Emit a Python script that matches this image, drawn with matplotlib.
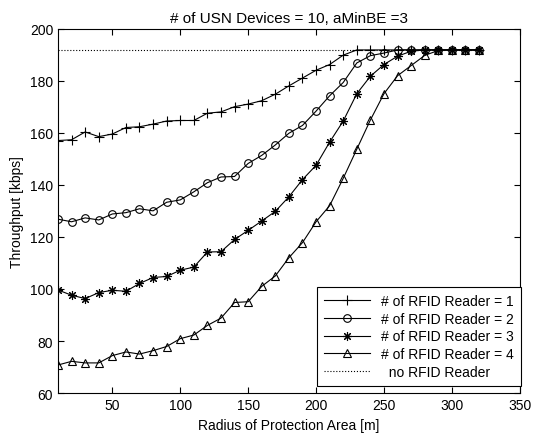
import numpy as np
import matplotlib
matplotlib.use('Agg')
import matplotlib.pyplot as plt

plt.rcParams['font.family'] = ['Liberation Sans', 'DejaVu Sans']

# radius of protection area [m]
radius = list(range(10, 330, 10))

# throughput [kbps] per number of RFID readers
reader1 = [157.0, 157.3, 160.3, 158.5, 159.5, 162.0, 162.3, 163.3, 164.5, 164.7,
           164.7, 167.5, 168.0, 170.0, 171.0, 172.3, 174.8, 178.0, 181.0, 184.0,
           186.2, 189.8, 191.8, 191.8, 191.8, 191.8, 191.8, 191.8, 191.8, 191.8,
           191.8, 191.8]
reader2 = [126.8, 125.8, 127.3, 126.5, 128.8, 129.3, 130.8, 130.0, 133.3, 134.2,
           137.3, 140.8, 143.0, 143.2, 148.2, 151.3, 155.3, 159.8, 162.8, 168.3,
           174.2, 179.3, 186.8, 189.6, 190.6, 191.8, 191.8, 191.8, 191.8, 191.8,
           191.8, 191.8]
reader3 = [99.6, 97.6, 96.3, 98.6, 99.5, 99.1, 102.1, 104.4, 104.8, 107.2,
           108.4, 114.2, 114.3, 119.0, 122.5, 126.1, 129.8, 135.4, 142.0, 147.5,
           156.4, 164.5, 175.0, 181.7, 186.2, 189.4, 191.3, 191.8, 191.8, 191.8,
           191.8, 191.8]
reader4 = [70.8, 72.2, 71.6, 71.6, 74.4, 75.8, 75.0, 76.3, 77.9, 80.9,
           82.3, 86.0, 88.8, 94.8, 95.1, 101.0, 105.0, 112.0, 117.8, 125.8,
           132.0, 142.5, 153.7, 164.9, 175.0, 181.9, 185.8, 189.7, 191.6, 191.8,
           191.8, 191.8]
no_reader = 191.8

fig = plt.figure(figsize=(5.37, 4.35), dpi=100)
ax = fig.add_axes([0.108, 0.094, 0.860, 0.838])

ax.plot(radius, reader1, 'k-', marker='+', ms=7, lw=0.8, mew=0.8, label='# of RFID Reader = 1')
ax.plot(radius, reader2, 'k-', marker='o', ms=5.5, lw=0.8, mew=0.8, mfc='none', label='# of RFID Reader = 2')
ax.plot(radius, reader3, 'k-', marker=(8, 2, 0), ms=6.5, lw=0.8, mew=0.8, label='# of RFID Reader = 3')
ax.plot(radius, reader4, 'k-', marker='^', ms=5.5, lw=0.8, mew=0.8, mfc='none', label='# of RFID Reader = 4')
ax.plot([radius[0], radius[-1]], [no_reader, no_reader], 'k:', lw=0.8, label='  no RFID Reader')

ax.set_xlim(10, 350)
ax.set_ylim(60, 200)
ax.set_xticks(range(50, 351, 50))
ax.set_yticks(range(60, 201, 20))
ax.tick_params(direction='in', top=True, right=True, labelsize=10, length=4, width=0.8)
for s in ax.spines.values():
    s.set_linewidth(0.8)

ax.set_xlabel('Radius of Protection Area [m]', fontsize=10)
ax.set_ylabel('Throughput [kbps]', fontsize=10)
ax.set_title('# of USN Devices = 10, aMinBE =3', fontsize=11, pad=5)

leg = ax.legend(loc='lower right', bbox_to_anchor=(1.002, 0.019), fontsize=10,
                fancybox=False, edgecolor='k', framealpha=1, borderaxespad=0,
                handlelength=3.3, labelspacing=0.28, borderpad=0.5)
leg.get_frame().set_linewidth(0.8)

plt.savefig('out.png', dpi=100)
